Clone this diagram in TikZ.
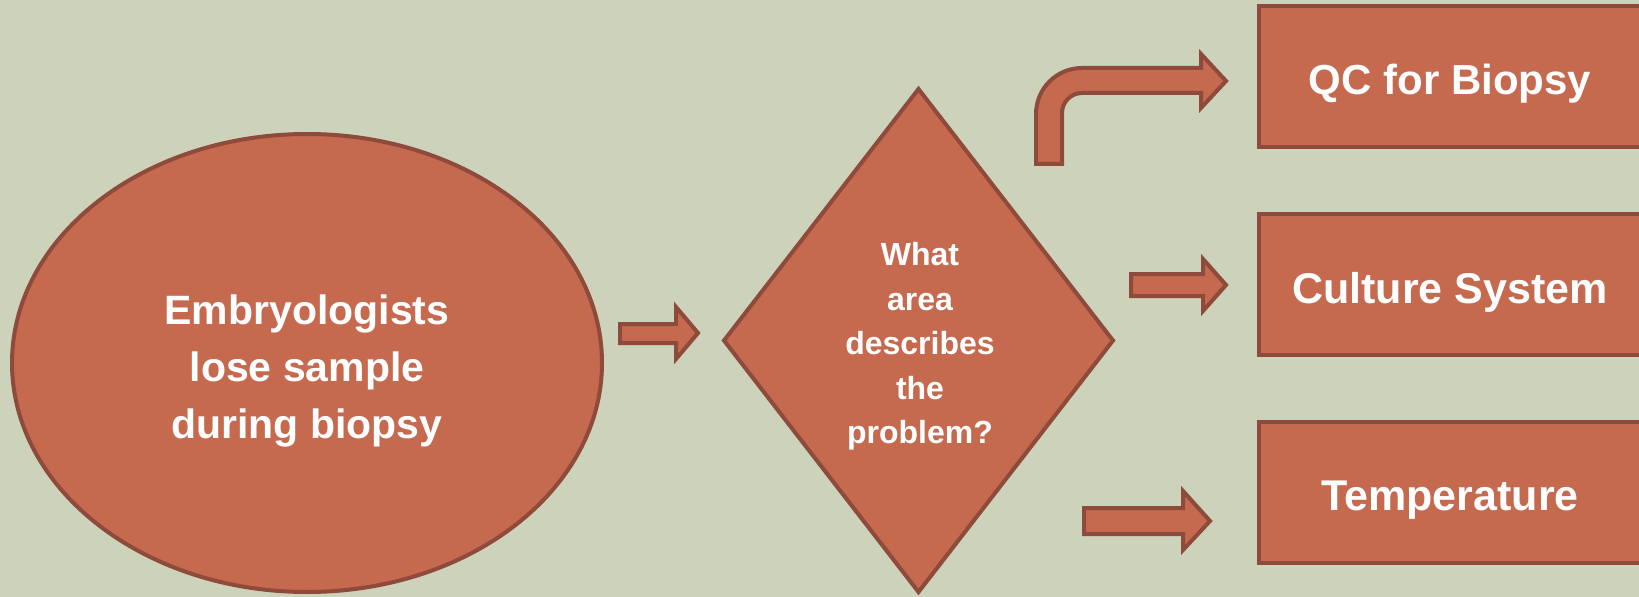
\documentclass[tikz,border=0pt]{standalone}
\usepackage{fontspec}
\setmainfont{Liberation Sans}
\definecolor{bgc}{HTML}{CCD3BA}
\definecolor{fillc}{HTML}{C5694F}
\definecolor{linec}{HTML}{8E4A3A}
\begin{document}
\begin{tikzpicture}[x=1bp,y=-1bp,
  shapestyle/.style={fill=fillc,draw=linec,line width=4bp,line join=miter},
  txt/.style={text=white,font=\bfseries,align=center,inner sep=0pt}]
\useasboundingbox (0,0) rectangle (1639,597);
\fill[bgc] (0,0) rectangle (1639,597);
% ellipse
\draw[shapestyle] (307,363) ellipse [x radius=295, y radius=229];
\node[txt,font=\bfseries\fontsize{41bp}{57bp}\selectfont] (start) at (307,371) {Embryologists\\lose sample\\during biopsy};
% diamond
\draw[shapestyle] (724,340.5) -- (918.5,89) -- (1113,340.5) -- (918.5,592) -- cycle;
\node[txt,font=\bfseries\fontsize{32bp}{44.5bp}\selectfont] (q) at (920,346.5) {What\\area\\describes\\the\\problem?};
% rectangles
\draw[shapestyle] (1259,6) rectangle (1650,147);
\draw[shapestyle] (1259,214) rectangle (1650,355);
\draw[shapestyle] (1259,422) rectangle (1650,563);
\node[txt,anchor=base,font=\bfseries\fontsize{42bp}{50bp}\selectfont] (r1) at (1450,95) {QC for Biopsy};
\node[txt,anchor=base,font=\bfseries\fontsize{43bp}{50bp}\selectfont] (r2) at (1450,303) {Culture System};
\node[txt,anchor=base,font=\bfseries\fontsize{43bp}{50bp}\selectfont] (r3) at (1450,510) {Temperature};
% block arrows
\draw[shapestyle] (620,324) -- (676,324) -- (676,307) -- (698,333) -- (676,359) -- (676,343) -- (620,343) -- cycle;
\draw[shapestyle] (1131,274) -- (1203,274) -- (1203,259) -- (1226,285) -- (1203,311) -- (1203,296) -- (1131,296) -- cycle;
\draw[shapestyle] (1084,508) -- (1183,508) -- (1183,491) -- (1210,521) -- (1183,550) -- (1183,534) -- (1084,534) -- cycle;
% bent arrow
\draw[shapestyle] (1036,164) -- (1036,114) .. controls (1036,88.6) and (1056.6,68) .. (1082,68)
  -- (1201,68) -- (1201,54) -- (1226,81) -- (1201,108) -- (1201,93) -- (1082,93)
  .. controls (1071,93) and (1062,102) .. (1062,113) -- (1062,164) -- cycle;
\end{tikzpicture}
\end{document}
